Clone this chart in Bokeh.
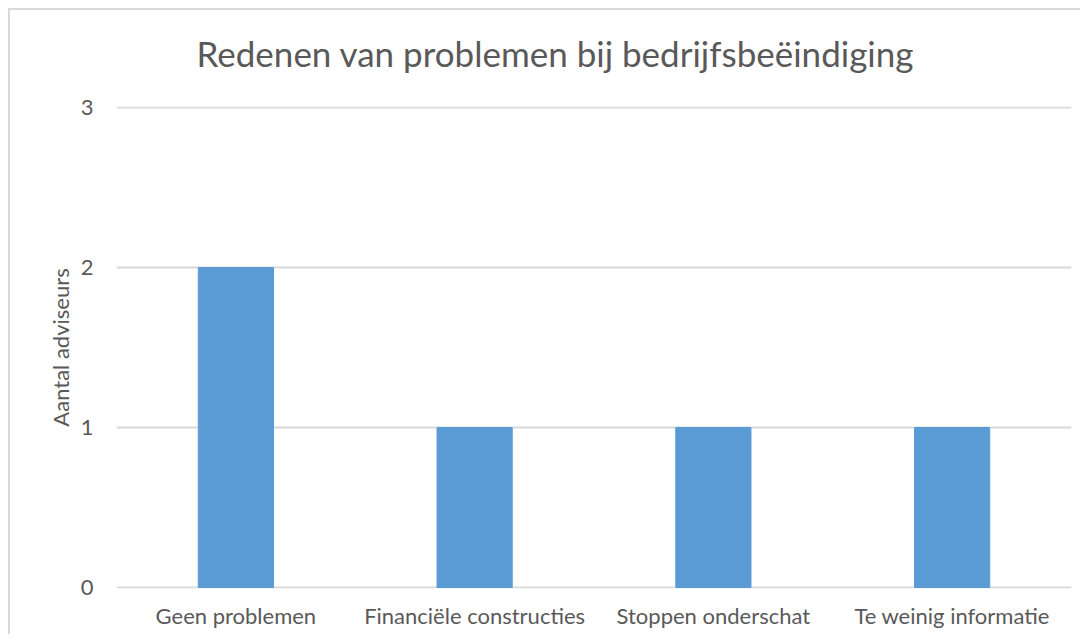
from bokeh.plotting import figure
from bokeh.models import Range1d, FactorRange, FixedTicker, Title
from bokeh.embed import file_html
from bokeh.resources import INLINE

title_text = "Redenen van problemen bij bedrijfsbeëindiging"
categories = ["Geen problemen", "Financiële constructies", "Stoppen onderschat", "Te weinig informatie"]
values = [2, 1, 1, 1]
y_ticks = [0, 1, 2, 3]

TXT = "#595959"
FONT = "Lato"
EPS = 0.00625

p = figure(x_range=FactorRange(*categories, range_padding=0), y_range=Range1d(-EPS, 3 + EPS),
           width=1072, height=626, output_backend="svg", toolbar_location=None,
           min_border_left=106, min_border_right=11, min_border_top=96, min_border_bottom=48)
p.styles = {"border-left": "2px solid #d9d9d9", "border-top": "2px solid #d9d9d9",
            "margin-left": "8px", "margin-top": "8px"}

p.vbar(x=categories, top=values, width=0.315, color="#5B9BD5")

# spacer panel between the frame and the title
p.add_layout(Title(text=" ", text_font_size="1px", standoff=30), "above")
p.add_layout(Title(text=title_text, text_font=FONT, text_font_size="35px",
                   text_font_style="normal", text_color=TXT, align="left",
                   offset=80, standoff=0), "above")

p.outline_line_color = None
p.xgrid.grid_line_color = None
p.ygrid.grid_line_color = "#d9d9d9"
p.ygrid.grid_line_width = 2
p.yaxis.ticker = FixedTicker(ticks=y_ticks)

for ax in (p.xaxis[0], p.yaxis[0]):
    ax.axis_line_color = None
    ax.major_tick_line_color = None
    ax.minor_tick_line_color = None
    ax.major_label_text_font = FONT
    ax.major_label_text_font_size = "22px"
    ax.major_label_text_color = TXT

p.xaxis.major_label_standoff = 7
p.yaxis.major_label_standoff = 17
p.yaxis.axis_label = "Aantal adviseurs"
p.yaxis.axis_label_text_font = FONT
p.yaxis.axis_label_text_font_size = "22px"
p.yaxis.axis_label_text_font_style = "normal"
p.yaxis.axis_label_text_color = TXT
p.yaxis.axis_label_standoff = 4

open("out.html", "w").write(file_html(p, INLINE))
